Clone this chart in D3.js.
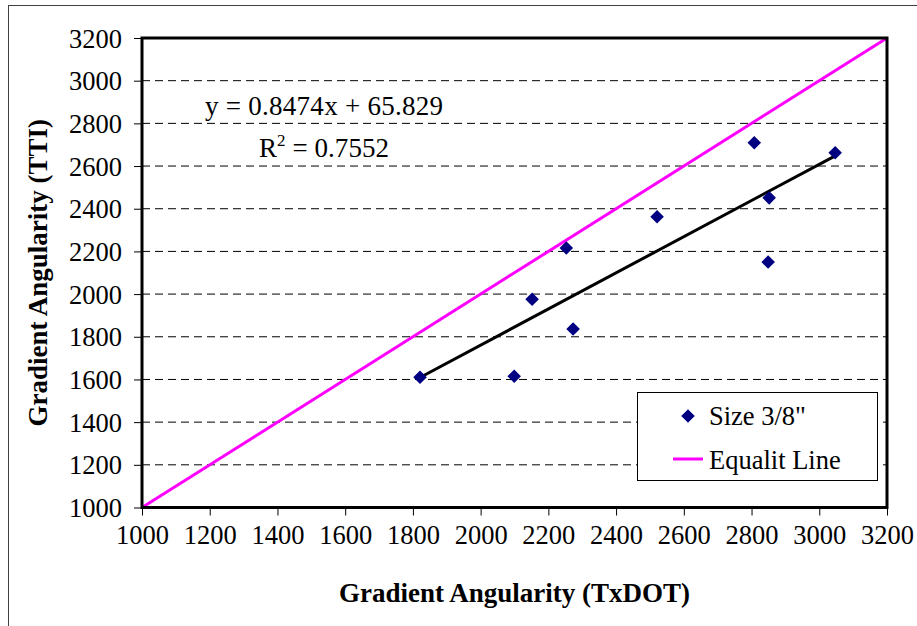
<!DOCTYPE html>
<html>
<head>
<meta charset="utf-8">
<script src="https://cdn.jsdelivr.net/npm/d3@7"></script>
<style>
  html, body { margin: 0; padding: 0; background: #fff; }
  svg { display: block; }
  text { font-family: "Liberation Serif", "Times New Roman", serif; fill: #000; }
</style>
</head>
<body>
<script>
// ---- Data ----
const txdot = [1821, 2099, 2152, 2253, 2273, 2521, 2808, 2852, 2849, 3047];
const tti   = [1610, 1615, 1976, 2216, 1836, 2362, 2709, 2451, 2150, 2662];
const trendSlope = 0.8474;
const trendIntercept = 65.829;
const equalityLine = [1000, 3200];
const xTicks = [1000, 1200, 1400, 1600, 1800, 2000, 2200, 2400, 2600, 2800, 3000, 3200];
const yTicks = [1000, 1200, 1400, 1600, 1800, 2000, 2200, 2400, 2600, 2800, 3000, 3200];
const seriesNames = ["Size 3/8\"", "Equalit Line"];
const equationText = "y = 0.8474x + 65.829";
const r2Value = "0.7552";
const xTitle = "Gradient Angularity (TxDOT)";
const yTitle = "Gradient Angularity (TTI)";

// ---- Layout ----
const W = 917, H = 626;
const plot = { left: 142, top: 38, right: 887, bottom: 507.5 };

const svg = d3.select("body").append("svg").attr("width", W).attr("height", H);

// outer frame (only top and left visible)
svg.append("rect").attr("x", 8.5).attr("y", 5.5).attr("width", 1000).attr("height", 1000)
  .attr("fill", "none").attr("stroke", "#404040").attr("stroke-width", 1);

const x = d3.scaleLinear().domain([1000, 3200]).range([plot.left, plot.right]);
const y = d3.scaleLinear().domain([1000, 3200]).range([plot.bottom, plot.top]);

// gridlines
svg.append("g").selectAll("line").data(yTicks.filter(v => v > 1000 && v < 3200)).join("line")
  .attr("x1", plot.left).attr("x2", plot.right)
  .attr("y1", d => y(d)).attr("y2", d => y(d))
  .attr("stroke", "#000").attr("stroke-width", 1).attr("stroke-dasharray", "8,5");

// axes
const xAxis = d3.axisBottom(x).tickValues(xTicks).tickSize(8).tickPadding(10).tickFormat(d3.format("d"));
const yAxis = d3.axisLeft(y).tickValues(yTicks).tickSize(8).tickPadding(12).tickFormat(d3.format("d"));

const gx = svg.append("g").attr("transform", `translate(0,${plot.bottom})`).call(xAxis);
const gy = svg.append("g").attr("transform", `translate(${plot.left},0)`).call(yAxis);
[gx, gy].forEach(g => {
  g.select(".domain").remove();
  g.selectAll(".tick line").attr("stroke", "#000").attr("stroke-width", 1);
  g.selectAll(".tick text").style("font-family", "'Liberation Serif', serif").style("font-size", "26.5px").attr("fill", "#000");
});
gx.selectAll(".tick text").attr("dy", "0.71em");
gy.selectAll(".tick text").attr("dy", "0.34em");

// equality line
svg.append("line")
  .attr("x1", x(equalityLine[0])).attr("y1", y(equalityLine[0]))
  .attr("x2", x(equalityLine[1])).attr("y2", y(equalityLine[1]))
  .attr("stroke", "#FF00FF").attr("stroke-width", 3);

// trend line
const xExt = d3.extent(txdot);
svg.append("line")
  .attr("x1", x(xExt[0])).attr("y1", y(trendSlope * xExt[0] + trendIntercept))
  .attr("x2", x(xExt[1])).attr("y2", y(trendSlope * xExt[1] + trendIntercept))
  .attr("stroke", "#000").attr("stroke-width", 3);

// points
const pts = txdot.map((v, i) => [v, tti[i]]);
svg.append("g").selectAll("path").data(pts).join("path")
  .attr("d", d3.symbol().type(d3.symbolSquare).size(92))
  .attr("transform", d => `translate(${x(d[0])},${y(d[1])}) rotate(45)`)
  .attr("fill", "#000080");

// plot border
svg.append("rect").attr("x", plot.left).attr("y", plot.top)
  .attr("width", plot.right - plot.left).attr("height", plot.bottom - plot.top)
  .attr("fill", "none").attr("stroke", "#000").attr("stroke-width", 3);

// equation
svg.append("text").attr("x", 205).attr("y", 115).style("font-size", "27px")
  .attr("textLength", 238).attr("lengthAdjust", "spacing").text(equationText);
const r2 = svg.append("text").attr("x", 259).attr("y", 157).style("font-size", "27px")
  .attr("textLength", 130).attr("lengthAdjust", "spacing");
r2.append("tspan").text("R");
r2.append("tspan").attr("dy", -11).style("font-size", "17px").text("2");
r2.append("tspan").attr("dy", 11).text(" = " + r2Value);

// legend
const lg = svg.append("g");
lg.append("rect").attr("x", 637.5).attr("y", 392.5).attr("width", 240).attr("height", 88)
  .attr("fill", "#fff").attr("stroke", "#000").attr("stroke-width", 1);
lg.append("path").attr("d", d3.symbol().type(d3.symbolSquare).size(92))
  .attr("transform", "translate(688,416) rotate(45)").attr("fill", "#000080");
lg.append("text").attr("x", 709).attr("y", 425).style("font-size", "26.5px").text(seriesNames[0]);
lg.append("line").attr("x1", 673).attr("x2", 703).attr("y1", 459).attr("y2", 459)
  .attr("stroke", "#FF00FF").attr("stroke-width", 3);
lg.append("text").attr("x", 709).attr("y", 469).style("font-size", "26.5px").text(seriesNames[1]);

// axis titles
svg.append("text").attr("x", (plot.left + plot.right) / 2).attr("y", 602)
  .attr("text-anchor", "middle").style("font-size", "27px").style("font-weight", "bold").text(xTitle);
svg.append("text").attr("transform", `translate(47,${(plot.top + plot.bottom) / 2}) rotate(-90)`)
  .attr("text-anchor", "middle").style("font-size", "27px").style("font-weight", "bold").text(yTitle);
</script>
</body>
</html>
